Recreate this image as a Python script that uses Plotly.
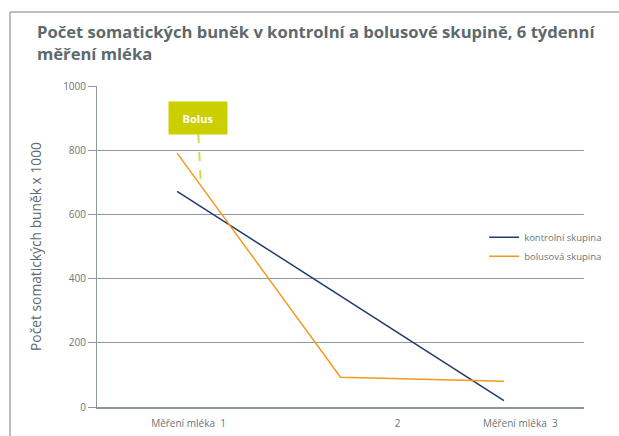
import plotly.graph_objects as go

x_pos = [0, 1, 2]
kontrolni = [672, 346, 20]
bolusova = [791, 93, 80]
series_names = ["kontrolní skupina", "bolusová skupina"]
tick_pos = [0.07, 1.35, 2.10]
tick_labels = ["Měření mléka  1", "2", "Měření mléka  3"]
y_ticks = [0, 200, 400, 600, 800, 1000]

GRAY = "#6b7578"
TITLE_GRAY = "#5d6a6d"
BLUE = "#1f3b6b"
ORANGE = "#f39a1e"
FONT = "Open Sans"

fig = go.Figure()
fig.add_trace(go.Scatter(x=x_pos, y=kontrolni, mode="lines", name=series_names[0],
                         line=dict(color=BLUE, width=1.5)))
fig.add_trace(go.Scatter(x=x_pos, y=bolusova, mode="lines", name=series_names[1],
                         line=dict(color=ORANGE, width=1.5)))

fig.update_layout(
    width=619, height=436,
    margin=dict(l=97, r=35, t=86, b=29, autoexpand=False),
    paper_bgcolor="white", plot_bgcolor="white",
    font=dict(family=FONT, color=GRAY, size=10),
    title=dict(text="<b>Počet somatických buněk v kontrolní a bolusové skupině, 6 týdenní<br>měření mléka</b>",
               x=37/619, xref="container", xanchor="left", y=1-38/436, yref="container", yanchor="top",
               font=dict(family=FONT, size=16.6, color=TITLE_GRAY)),
    showlegend=True,
    legend=dict(x=0.795, y=0.574, xanchor="left", yanchor="top",
                font=dict(size=9.5, color=GRAY), bgcolor="rgba(0,0,0,0)",
                itemwidth=30),
    xaxis=dict(range=[-0.49, 2.49], tickmode="array", tickvals=tick_pos, ticktext=tick_labels,
               showgrid=False, zeroline=False, showline=True, linecolor="#8a9396", linewidth=1.5,
               ticks="", ticklabelstandoff=6, tickfont=dict(size=10, color=GRAY), automargin=False),
    yaxis=dict(range=[0, 1000], tickmode="array", tickvals=y_ticks,
               showgrid=True, gridcolor="#8f989b", gridwidth=1, zeroline=False,
               showline=True, linecolor="#8f989b", linewidth=1,
               ticks="outside", ticklen=8, tickcolor="#8f989b",
               tickfont=dict(size=10, color=GRAY), automargin=False,
               title=dict(text="Počet somatických buněk x 1000", standoff=18,
                          font=dict(size=13.8, color=TITLE_GRAY))),
)

# outer frame border lines
fig.add_shape(type="line", xref="paper", yref="paper", x0=-87/487, x1=1.2, y0=(407-12)/321, y1=(407-12)/321,
              line=dict(color="#a3abae", width=1.5))
fig.add_shape(type="line", xref="paper", yref="paper", x0=-87/487, x1=-87/487, y0=-0.2, y1=(407-12)/321,
              line=dict(color="#a3abae", width=1.5))

# Bolus callout
fig.add_shape(type="line", xref="x", yref="y", x0=0.13, y0=850, x1=0.145, y1=700,
              line=dict(color="#d7da45", width=2, dash="dash"))
fig.add_annotation(x=0.13, y=900, xref="x", yref="y", text="<b>Bolus</b>", showarrow=False,
                   font=dict(family=FONT, size=11, color="white"),
                   bgcolor="#cbcf00", width=52, height=26, borderpad=3)

fig.write_html("out.html", config={"displayModeBar": False},
               post_script="document.body.style.margin='0';document.body.style.overflow='hidden';")
